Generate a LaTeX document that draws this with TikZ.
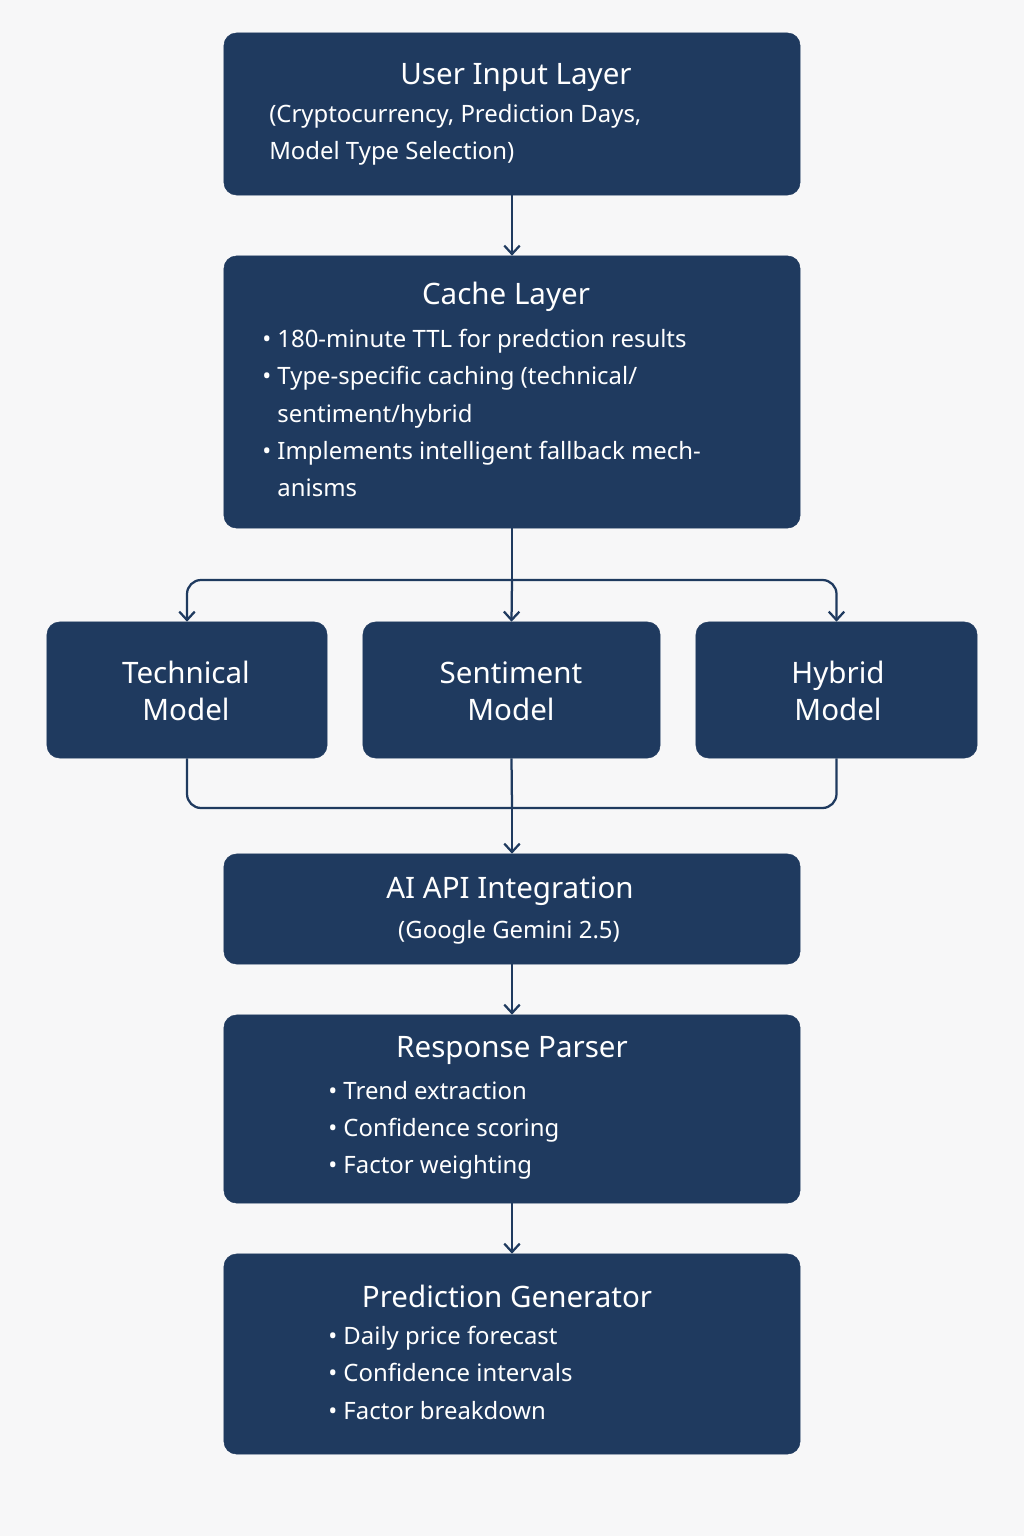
\documentclass[tikz,border=0pt]{standalone}
\usepackage{fontspec}
\setmainfont{Noto Sans}
\definecolor{navy}{HTML}{1F3A5F}
\definecolor{paper}{HTML}{F7F7F8}
\tikzset{
	box/.style={draw=navy, fill=navy, rounded corners=9pt, inner sep=0pt},
	title/.style={text=white, font=\fontsize{21}{26}\selectfont\bfseries},
	body/.style={text=white, font=\fontsize{17}{26.5}\selectfont, align=left, anchor=north west, inner sep=0pt},
	wire/.style={draw=navy, line width=1.6pt, rounded corners=10pt},
	tip/.style={wire, ->, >={Straight Barb[length=6pt,width=11pt]}}
}
\usetikzlibrary{arrows.meta}
\newcommand{\itm}{\textbullet\ }
\newcommand{\ind}{\phantom{\textbullet\ }}
\begin{document}
\begin{tikzpicture}[x=0.025cm, y=-0.025cm]
	\fill[paper] (0,0) rectangle (1024,1536);
	% boxes
	\node[box, minimum width=14.4cm, minimum height=4.05cm] (user) at (512,114) {};
	\node[box, minimum width=14.4cm, minimum height=6.8cm] (cache) at (512,392) {};
	\node[box, minimum width=7cm, minimum height=3.4cm] (tech) at (187,690) {};
	\node[box, minimum width=7.425cm, minimum height=3.4cm] (sent) at (511.5,690) {};
	\node[box, minimum width=7.025cm, minimum height=3.4cm] (hyb) at (836.5,690) {};
	\node[box, minimum width=14.4cm, minimum height=2.75cm] (api) at (512,909) {};
	\node[box, minimum width=14.4cm, minimum height=4.7cm] (parser) at (512,1109) {};
	\node[box, minimum width=14.4cm, minimum height=5cm] (gen) at (512,1354) {};
	% texts
	\node[title] at (516,78) {User Input Layer};
	\node[body] at (269,104) {(Cryptocurrency, Prediction Days,\\Model Type Selection)};
	\node[title] at (506,297) {Cache Layer};
	\node[body] at (262,329) {\itm 180-minute TTL for predction results\\\itm Type-specific caching (technical/\\\ind sentiment/hybrid\\\itm Implements intelligent fallback mech-\\\ind anisms};
	\node[title, align=center] at (186,691) {Technical\\Model};
	\node[title, align=center] at (511,691) {Sentiment\\Model};
	\node[title, align=center] at (838,691) {Hybrid\\Model};
	\node[title] at (510,891) {AI API Integration};
	\node[body, anchor=center, align=center] at (509,932) {(Google Gemini 2.5)};
	\node[title] at (512,1050) {Response Parser};
	\node[body] at (328,1081) {\itm Trend extraction\\\itm Confidence scoring\\\itm Factor weighting};
	\node[title] at (507,1296) {Prediction Generator};
	\node[body] at (328,1326) {\itm Daily price forecast\\\itm Confidence intervals\\\itm Factor breakdown};
	% connectors
	\coordinate (split) at (512,580);
	\coordinate (join) at (512,808);
	\draw[tip] (user) -- (cache);
	\draw[wire] (cache.south) -- (split);
	\draw[tip] (split) -| (tech.north);
	\draw[tip] (split) -| (hyb.north);
	\draw[tip] (split) -- (sent.north);
	\draw[wire] (tech.south) |- (join);
	\draw[wire] (hyb.south) |- (join);
	\draw[wire] (sent.south) -- (join);
	\draw[tip] (join) -- (api.north);
	\draw[tip] (api) -- (parser);
	\draw[tip] (parser) -- (gen);
\end{tikzpicture}
\end{document}
